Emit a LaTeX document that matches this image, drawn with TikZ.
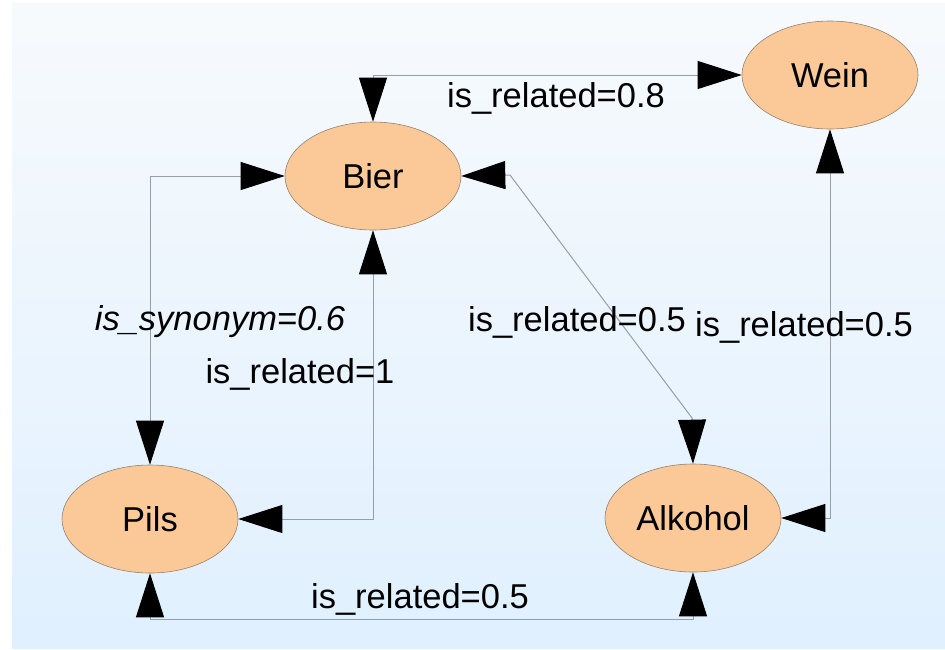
\documentclass[tikz,border=0pt]{standalone}
\usepackage{fontspec}
\setmainfont{Liberation Sans}
\usetikzlibrary{shapes.geometric,arrows.meta}

\definecolor{conceptfill}{RGB}{251,201,151}
\definecolor{conceptline}{RGB}{150,130,110}
\definecolor{linkline}{RGB}{150,158,166}
\definecolor{bgtop}{RGB}{247,250,253}
\definecolor{bgbottom}{RGB}{224,240,254}

\tikzset{
  concept/.style={ellipse, draw=conceptline, line width=0.6pt, fill=conceptfill,
    minimum width=176pt, minimum height=108pt, inner sep=0pt,
    font=\fontsize{34.5}{40}\selectfont},
  rel/.style={font=\fontsize{34.5}{40}\selectfont, inner sep=0pt, anchor=center},
  link/.style={draw=linkline, line width=1pt,
    {Triangle[length=44pt,width=28pt,fill=black,color=black]}-{Triangle[length=44pt,width=28pt,fill=black,color=black]}}
}

\begin{document}
\begin{tikzpicture}[x=1pt,y=-1pt]
  \useasboundingbox (0,0) rectangle (945,649);
  % soft blue backdrop
  \shade[top color=bgtop, bottom color=bgbottom] (12,3) rectangle (945,648);

  % concepts
  \node[concept] (bier) at (373,176) {Bier};
  \node[concept] (wein) at (830,75) {Wein};
  \node[concept] (pils) at (150,519) {Pils};
  \node[concept] (alk)  at (693,518) {Alkohol};

  % bends
  \coordinate (dA) at (510,175);
  \coordinate (dB) at (692,418);
  \coordinate (bot) at (420,619);

  % relations
  \draw[link] (bier.north) |- (wein.west);
  \draw[link] (bier.west) -| (pils.north);
  \draw[link] (pils.east) -| (bier.south);
  \draw[link] (bier.east) -- (dA) -- (dB) -- (alk.north);
  \draw[link] (alk.east) -| (wein.south);
  \draw[link] (pils.south) |- (bot) -| (alk.south);

  % relation labels
  \node[rel] (l1) at (556,98) {is\_related=0.8};
  \node[rel] (l2) at (220,322) {\itshape is\_synonym=0.6};
  \node[rel] (l3) at (300,374) {is\_related=1};
  \node[rel] (l4) at (577,322) {is\_related=0.5};
  \node[rel] (l5) at (804,327) {is\_related=0.5};
  \node[rel] (l6) at (420,599) {is\_related=0.5};
\end{tikzpicture}
\end{document}
